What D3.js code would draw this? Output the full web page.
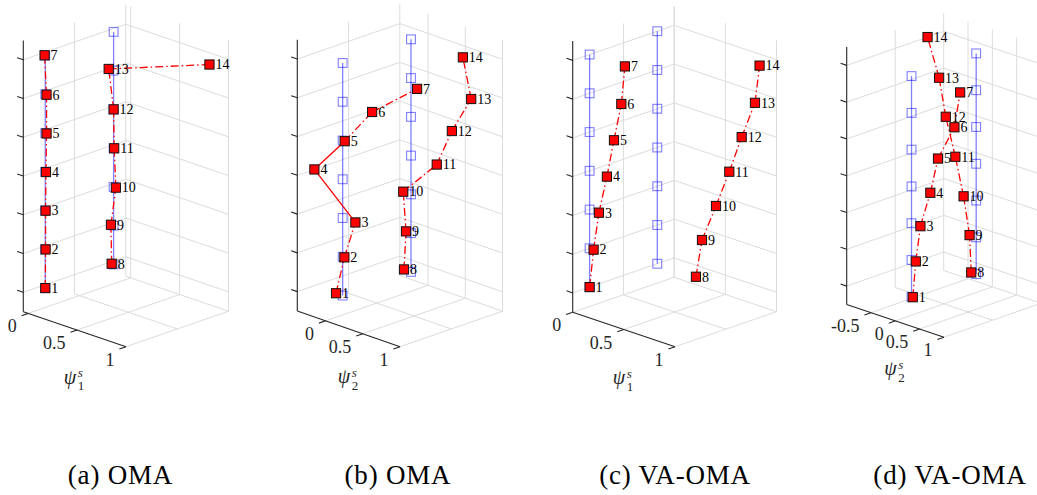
<!DOCTYPE html>
<html>
<head>
<meta charset="utf-8">
<script src="https://cdnjs.cloudflare.com/ajax/libs/d3/7.8.5/d3.min.js"></script>
<style>
  body { margin: 0; background: #fff; }
  svg { display: block; }
  text { font-family: "Liberation Serif", "DejaVu Serif", serif; }
</style>
</head>
<body>
<div id="chart"></div>
<script>
// nodes 1-7 sit on column 1 (floors 1..7), nodes 8-14 on column 2
const nodeIds = d3.range(1, 15);
const floors  = [1, 2, 3, 4, 5, 6, 7, 1, 2, 3, 4, 5, 6, 7];
const columns = [1, 1, 1, 1, 1, 1, 1, 2, 2, 2, 2, 2, 2, 2];

// identified mode shape components (red markers), one list per subplot
const psiA = [0, 0.003, 0.003, 0.007, 0.013, 0.013, -0.007, -0.02, -0.027, 0.023, 0.006, 0, -0.05, 0.98];
const psiB = [-0.089, 0.023, 0.171, -0.38, 0.027, 0.396, 1.0, -0.094, -0.067, -0.104, 0.346, 0.549, 0.809, 0.697];
const psiC = [0, 0.039, 0.091, 0.169, 0.238, 0.31, 0.345, 0.378, 0.437, 0.574, 0.704, 0.825, 0.955, 1.0];
const psiD = [0.026, 0.088, 0.183, 0.387, 0.544, 0.882, 1.0, -0.102, -0.136, -0.259, -0.428, -0.625, -0.762, -1.0];

// undeformed geometry (blue markers) is at zero displacement
const undeformed = nodeIds.map(() => 0);

const xTicksAC = [0, 0.5, 1];
const xTicksB  = [0, 0.5, 1];
const xTicksD  = [-0.5, 0, 0.5, 1];
const zTicks   = [1, 2, 3, 4, 5, 6, 7];
const yGridTicks = [1.5];
const yDomain = [0.75, 2.25];
const zDomain = [0.5, 7.5];

const captions = ['(a) OMA', '(b) OMA', '(c) VA-OMA', '(d) VA-OMA'];
const modeIndex = ['1', '2', '1', '2'];

// screen layout of each 3-D box: origin and edge vectors (orthographic view)
const panels = [
    { psi: psiA, xDomain: [-0.05, 1], xTicks: xTicksAC, o: [23.3, 311.7],  ex: [102.7, 35],   ey: [102.5, -35.5], ez: [0, -271.3], capX: 120.5, solid: [] },
    { psi: psiB, xDomain: [-0.38, 1], xTicks: xTicksB,  o: [297.3, 311],   ex: [102.7, 35.7], ey: [102.5, -35.5], ez: [0, -271.3], capX: 398,   solid: [3, 4] },
    { psi: psiC, xDomain: [0, 1],     xTicks: xTicksAC, o: [572.7, 312.3], ex: [102.3, 34.4], ey: [101.5, -35],   ez: [0, -271.3], capX: 675,   solid: [] },
    { psi: psiD, xDomain: [-1, 1],    xTicks: xTicksD,  o: [846.7, 304.5], ex: [97.3, 32.7],  ey: [97, -34],      ez: [0, -257.5], capX: 950,   solid: [] }
];

const W = 1037, H = 495;
const svg = d3.select('#chart').append('svg')
    .attr('width', W)
    .attr('height', H);
svg.append('rect').attr('width', W).attr('height', H).attr('fill', '#fff');

const gridColor = '#dcdcdc';
const axisColor = '#262626';
const blue = 'rgba(0,0,255,0.5)';

panels.forEach((p, i) => drawPanel(p, i));

function drawPanel(p, i) {
    const g = svg.append('g');

    const sx = d3.scaleLinear().domain(p.xDomain).range([0, 1]);
    const sy = d3.scaleLinear().domain(yDomain).range([0, 1]);
    const sz = d3.scaleLinear().domain(zDomain).range([0, 1]);
    const proj = (x, y, z) => {
        const a = sx(x), b = sy(y), c = sz(z);
        return [p.o[0] + a * p.ex[0] + b * p.ey[0] + c * p.ez[0],
                p.o[1] + a * p.ex[1] + b * p.ey[1] + c * p.ez[1]];
    };
    const [x0, x1] = p.xDomain, [y0, y1] = yDomain, [z0, z1] = zDomain;

    // grid on back walls and floor
    const grid = [];
    zTicks.forEach(z => {
        grid.push([proj(x0, y0, z), proj(x0, y1, z)]);
        grid.push([proj(x0, y1, z), proj(x1, y1, z)]);
    });
    yGridTicks.concat([y1]).forEach(y => {
        grid.push([proj(x0, y, z0), proj(x0, y, z1)]);
        grid.push([proj(x0, y, z0), proj(x1, y, z0)]);
    });
    p.xTicks.forEach(x => {
        grid.push([proj(x, y1, z0), proj(x, y1, z1)]);
        grid.push([proj(x, y0, z0), proj(x, y1, z0)]);
    });
    g.selectAll('.grid')
        .data(grid)
        .join('line')
        .attr('class', 'grid')
        .attr('x1', d => d[0][0]).attr('y1', d => d[0][1])
        .attr('x2', d => d[1][0]).attr('y2', d => d[1][1])
        .attr('stroke', gridColor)
        .attr('stroke-width', 1);

    // axes
    const axes = [[proj(x0, y0, z0), proj(x0, y0, z1)], [proj(x0, y0, z0), proj(x1, y0, z0)]];
    const exLen = Math.hypot(p.ex[0], p.ex[1]);
    const eyLen = Math.hypot(p.ey[0], p.ey[1]);
    zTicks.forEach(z => {
        const a = proj(x0, y0, z);
        axes.push([a, [a[0] - 6.5 * p.ex[0] / exLen, a[1] - 6.5 * p.ex[1] / exLen]]);
    });
    p.xTicks.forEach(x => {
        const a = proj(x, y0, z0);
        axes.push([a, [a[0] - 7 * p.ey[0] / eyLen, a[1] - 7 * p.ey[1] / eyLen]]);
    });
    g.selectAll('.axis')
        .data(axes)
        .join('line')
        .attr('class', 'axis')
        .attr('x1', d => d[0][0]).attr('y1', d => d[0][1])
        .attr('x2', d => d[1][0]).attr('y2', d => d[1][1])
        .attr('stroke', axisColor)
        .attr('stroke-width', 1.1);

    // tick labels
    g.selectAll('.tick-label')
        .data(p.xTicks)
        .join('text')
        .attr('class', 'tick-label')
        .attr('x', d => proj(d, y0, z0)[0] - 11.5)
        .attr('y', d => proj(d, y0, z0)[1] + 19)
        .attr('text-anchor', 'end')
        .attr('font-size', 18)
        .attr('fill', axisColor)
        .text(d => d);

    // axis label psi_k^s
    const mid = proj((x0 + x1) / 2, y0, z0);
    const lc = [mid[0] - 1, mid[1] + 51.5];
    g.append('text')
        .attr('x', lc[0] - 10).attr('y', lc[1] + 3)
        .attr('font-size', 20).attr('font-style', 'italic')
        .attr('fill', axisColor)
        .text('ψ');
    g.append('text')
        .attr('x', lc[0] + 4).attr('y', lc[1] - 3.5)
        .attr('font-size', 13).attr('font-style', 'italic')
        .attr('fill', axisColor)
        .text('s');
    g.append('text')
        .attr('x', lc[0] + 4).attr('y', lc[1] + 9.5)
        .attr('font-size', 13)
        .attr('fill', axisColor)
        .text(modeIndex[i]);

    const colIds = [1, 2];

    // undeformed structure (blue)
    colIds.forEach(c => {
        const idx = nodeIds.map((n, k) => k).filter(k => columns[k] === c);
        g.append('path')
            .attr('d', d3.line()(idx.map(k => proj(undeformed[k], columns[k], floors[k]))))
            .attr('fill', 'none')
            .attr('stroke', blue)
            .attr('stroke-width', 1.3);
    });
    g.selectAll('.blue-mk')
        .data(nodeIds.map((n, k) => k))
        .join('rect')
        .attr('class', 'blue-mk')
        .attr('x', k => proj(undeformed[k], columns[k], floors[k])[0] - 4.4)
        .attr('y', k => proj(undeformed[k], columns[k], floors[k])[1] - 4.4)
        .attr('width', 8.8).attr('height', 8.8)
        .attr('fill', 'none')
        .attr('stroke', blue)
        .attr('stroke-width', 1.1);

    // mode shape (red), drawn segment by segment
    const segs = [];
    nodeIds.forEach((n, k) => {
        if (k + 1 < nodeIds.length && columns[k + 1] === columns[k]) segs.push(k);
    });
    g.selectAll('.red-seg')
        .data(segs)
        .join('path')
        .attr('class', 'red-seg')
        .attr('d', k => d3.line()([proj(p.psi[k], columns[k], floors[k]),
                                   proj(p.psi[k + 1], columns[k + 1], floors[k + 1])]))
        .attr('fill', 'none')
        .attr('stroke', '#ff0000')
        .attr('stroke-width', 1.3)
        .attr('stroke-dasharray', k => p.solid.includes(nodeIds[k]) ? null : '8,3,1.5,3');
    g.selectAll('.red-mk')
        .data(nodeIds.map((n, k) => k))
        .join('rect')
        .attr('class', 'red-mk')
        .attr('x', k => proj(p.psi[k], columns[k], floors[k])[0] - 4.6)
        .attr('y', k => proj(p.psi[k], columns[k], floors[k])[1] - 4.6)
        .attr('width', 9.2).attr('height', 9.2)
        .attr('fill', '#ff0000')
        .attr('stroke', '#111')
        .attr('stroke-width', 1);
    g.selectAll('.node-label')
        .data(nodeIds.map((n, k) => k))
        .join('text')
        .attr('class', 'node-label')
        .attr('x', k => proj(p.psi[k], columns[k], floors[k])[0] + 6)
        .attr('y', k => proj(p.psi[k], columns[k], floors[k])[1] + 4.8)
        .attr('font-size', 14)
        .attr('fill', '#000')
        .text(k => nodeIds[k]);

    // caption
    svg.append('text')
        .attr('x', p.capX)
        .attr('y', 484)
        .attr('text-anchor', 'middle')
        .attr('font-size', 27)
        .attr('letter-spacing', 0.8)
        .attr('fill', '#000')
        .text(captions[i]);
}
</script>
</body>
</html>
